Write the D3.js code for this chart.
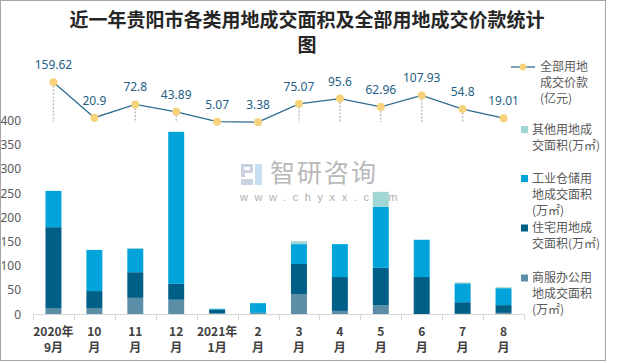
<!DOCTYPE html>
<html><head><meta charset="utf-8">
<script src="https://cdn.jsdelivr.net/npm/d3@7/dist/d3.min.js"></script>
<style>body{margin:0;background:#fff;}svg{display:block;font-family:"Noto Sans CJK SC","Noto Sans",sans-serif;}</style>
</head><body>
<svg id="c" width="620" height="363"></svg>
<script>
const months = ["2020年9月","10月","11月","12月","2021年1月","2月","3月","4月","5月","6月","7月","8月"];
const tickLine1 = ["2020年","10","11","12","2021年","2","3","4","5","6","7","8"];
const tickLine2 = ["9月","月","月","月","1月","月","月","月","月","月","月","月"];
const commercial = [13,13,34,30,2,3,42,7,19,0,1,3];
const residential = [167,35,53,33,8,0,62,70,77,77,24,16];
const industrial = [75,85,48,314,1.5,20,41,68,126,77,39,35];
const other = [0,0,2,0,0,0,6,0,31,0,2,2];
const price = [159.62,20.9,72.8,43.89,5.07,3.38,75.07,95.6,62.96,107.93,54.8,19.01];
const yTicks = [0,50,100,150,200,250,300,350,400];
const seriesNames = ["商服办公用地成交面积(万㎡)","住宅用地成交面积(万㎡)","工业仓储用地成交面积(万㎡)","其他用地成交面积(万㎡)"];
const colors = ["#5b8fa8","#005f86","#00a3da","#a0d6d3"];

const svg = d3.select("#c");
// frame
svg.append("rect").attr("x",0.5).attr("y",0.5).attr("width",605).attr("height",360)
  .attr("fill","#fff").attr("stroke","#a6a6a6").attr("stroke-width",1);

// title
svg.append("text").attr("x",307).attr("y",27).attr("text-anchor","middle")
  .attr("font-size",19).attr("font-weight",700).attr("fill","#262626")
  .text("近一年贵阳市各类用地成交面积及全部用地成交价款统计");
svg.append("text").attr("x",307).attr("y",52).attr("text-anchor","middle")
  .attr("font-size",19).attr("font-weight",700).attr("fill","#262626").text("图");

// watermark
const wm = svg.append("g");
wm.append("path").attr("d","M241,164h12v9h-8v4h-4z M244,167h6v3h-6z").attr("fill","#c9d3e3").attr("fill-rule","evenodd");
wm.append("rect").attr("x",255).attr("y",164).attr("width",7).attr("height",21).attr("fill","#c5dff0");
wm.append("rect").attr("x",241).attr("y",179).attr("width",12).attr("height",6).attr("fill","#c9d3e3");
wm.append("text").attr("x",270).attr("y",182).attr("font-size",25).attr("fill","#b8b8b8").attr("letter-spacing",2).text("智研咨询");
wm.append("text").attr("x",240).attr("y",201).attr("font-size",11).attr("fill","#b0b0b0")
  .attr("font-family","'Liberation Sans',sans-serif").attr("letter-spacing",6.6).text("www.chyxx.com");

const x = d3.scaleBand().domain(months).range([33,524]).paddingInner(0.61).paddingOuter(0.305);
const y = d3.scaleLinear().domain([0,400]).range([314.3,120.7]);
const yl = d3.scaleLinear().domain([0,160]).range([123,82.2]);

// y axis labels
const yAxis = d3.axisLeft(y).tickValues(yTicks).tickSize(0).tickPadding(0);
const gy = svg.append("g").attr("transform","translate(21,0)").call(yAxis);
gy.select(".domain").remove();
gy.selectAll("text").attr("font-size",12).attr("fill","#595959").attr("font-family","'Noto Sans','Liberation Sans',sans-serif");

// stacked bars
const rows = months.map((m,i)=>({m, s0:commercial[i], s1:residential[i], s2:industrial[i], s3:other[i]}));
const stack = d3.stack().keys(["s0","s1","s2","s3"])(rows);
svg.append("g").selectAll("g").data(stack).join("g").attr("fill",(d,i)=>colors[i])
  .selectAll("rect").data(d=>d).join("rect")
  .attr("x",d=>x(d.data.m)).attr("width",x.bandwidth())
  .attr("y",d=>y(d[1])).attr("height",d=>Math.max(0,y(d[0])-y(d[1])));

// x axis
const gx = svg.append("g");
gx.append("line").attr("x1",33).attr("x2",524).attr("y1",314.5).attr("y2",314.5).attr("stroke","#d9d9d9");
const bounds = months.map(m=>x(m)-x.step()*x.paddingInner()/2).concat([524]);
gx.selectAll("line.t").data(bounds).join("line").attr("class","t")
  .attr("x1",d=>Math.round(d)+0.5).attr("x2",d=>Math.round(d)+0.5).attr("y1",314).attr("y2",320).attr("stroke","#d9d9d9");
const cx = m => x(m)+x.bandwidth()/2;
gx.selectAll("text.l1").data(months).join("text").attr("class","l1")
  .attr("x",cx).attr("y",336).attr("text-anchor","middle").attr("font-size",12).attr("font-weight",700).attr("fill","#404040")
  .text((d,i)=>tickLine1[i]);
gx.selectAll("text.l2").data(months).join("text").attr("class","l2")
  .attr("x",cx).attr("y",351.5).attr("text-anchor","middle").attr("font-size",12).attr("font-weight",700).attr("fill","#404040")
  .text((d,i)=>tickLine2[i]);

// price line
const pts = months.map((m,i)=>({m, v:price[i]}));
svg.append("g").selectAll("line").data(pts).join("line")
  .attr("x1",d=>cx(d.m)).attr("x2",d=>cx(d.m)).attr("y1",d=>yl(d.v)).attr("y2",122)
  .attr("stroke","#bfbfbf").attr("stroke-width",1.5).attr("stroke-dasharray","2,1.5");
svg.append("path").datum(pts).attr("fill","none").attr("stroke","#2b6d8f").attr("stroke-width",1.3)
  .attr("d",d3.line().x(d=>cx(d.m)).y(d=>yl(d.v)));
svg.append("g").selectAll("circle").data(pts).join("circle")
  .attr("cx",d=>cx(d.m)).attr("cy",d=>yl(d.v)).attr("r",4).attr("fill","#f7d27c");
svg.append("g").selectAll("text").data(pts).join("text")
  .attr("x",d=>cx(d.m)).attr("y",d=>yl(d.v)-13).attr("text-anchor","middle")
  .attr("font-size",12).attr("fill","#245e84").attr("font-family","'Noto Sans','Liberation Sans',sans-serif")
  .text(d=>d.v);

// legend
const lg = svg.append("g").attr("font-size",12).attr("fill","#595959");
lg.append("line").attr("x1",511).attr("x2",535).attr("y1",67).attr("y2",67).attr("stroke","#2b6d8f").attr("stroke-width",1.3);
lg.append("circle").attr("cx",523).attr("cy",67).attr("r",3.5).attr("fill","#f7d27c");
[["全部用地",71],["成交价款",87],["(亿元)",103]].forEach(([t,yy])=>
  lg.append("text").attr("x",540).attr("y",yy).text(t));
const legItems = [
  {c:colors[3], y:129.5, lines:["其他用地成","交面积(万㎡)"]},
  {c:colors[2], y:178.5, lines:["工业仓储用","地成交面积","(万㎡)"]},
  {c:colors[1], y:228, lines:["住宅用地成","交面积(万㎡)"]},
  {c:colors[0], y:278, lines:["商服办公用","地成交面积","(万㎡)"]}
];
legItems.forEach(it=>{
  lg.append("rect").attr("x",521).attr("y",it.y-3.5).attr("width",7).attr("height",7).attr("fill",it.c);
  it.lines.forEach((t,k)=>lg.append("text").attr("x",532).attr("y",it.y+4+k*16).text(t));
});
</script>
</body></html>
